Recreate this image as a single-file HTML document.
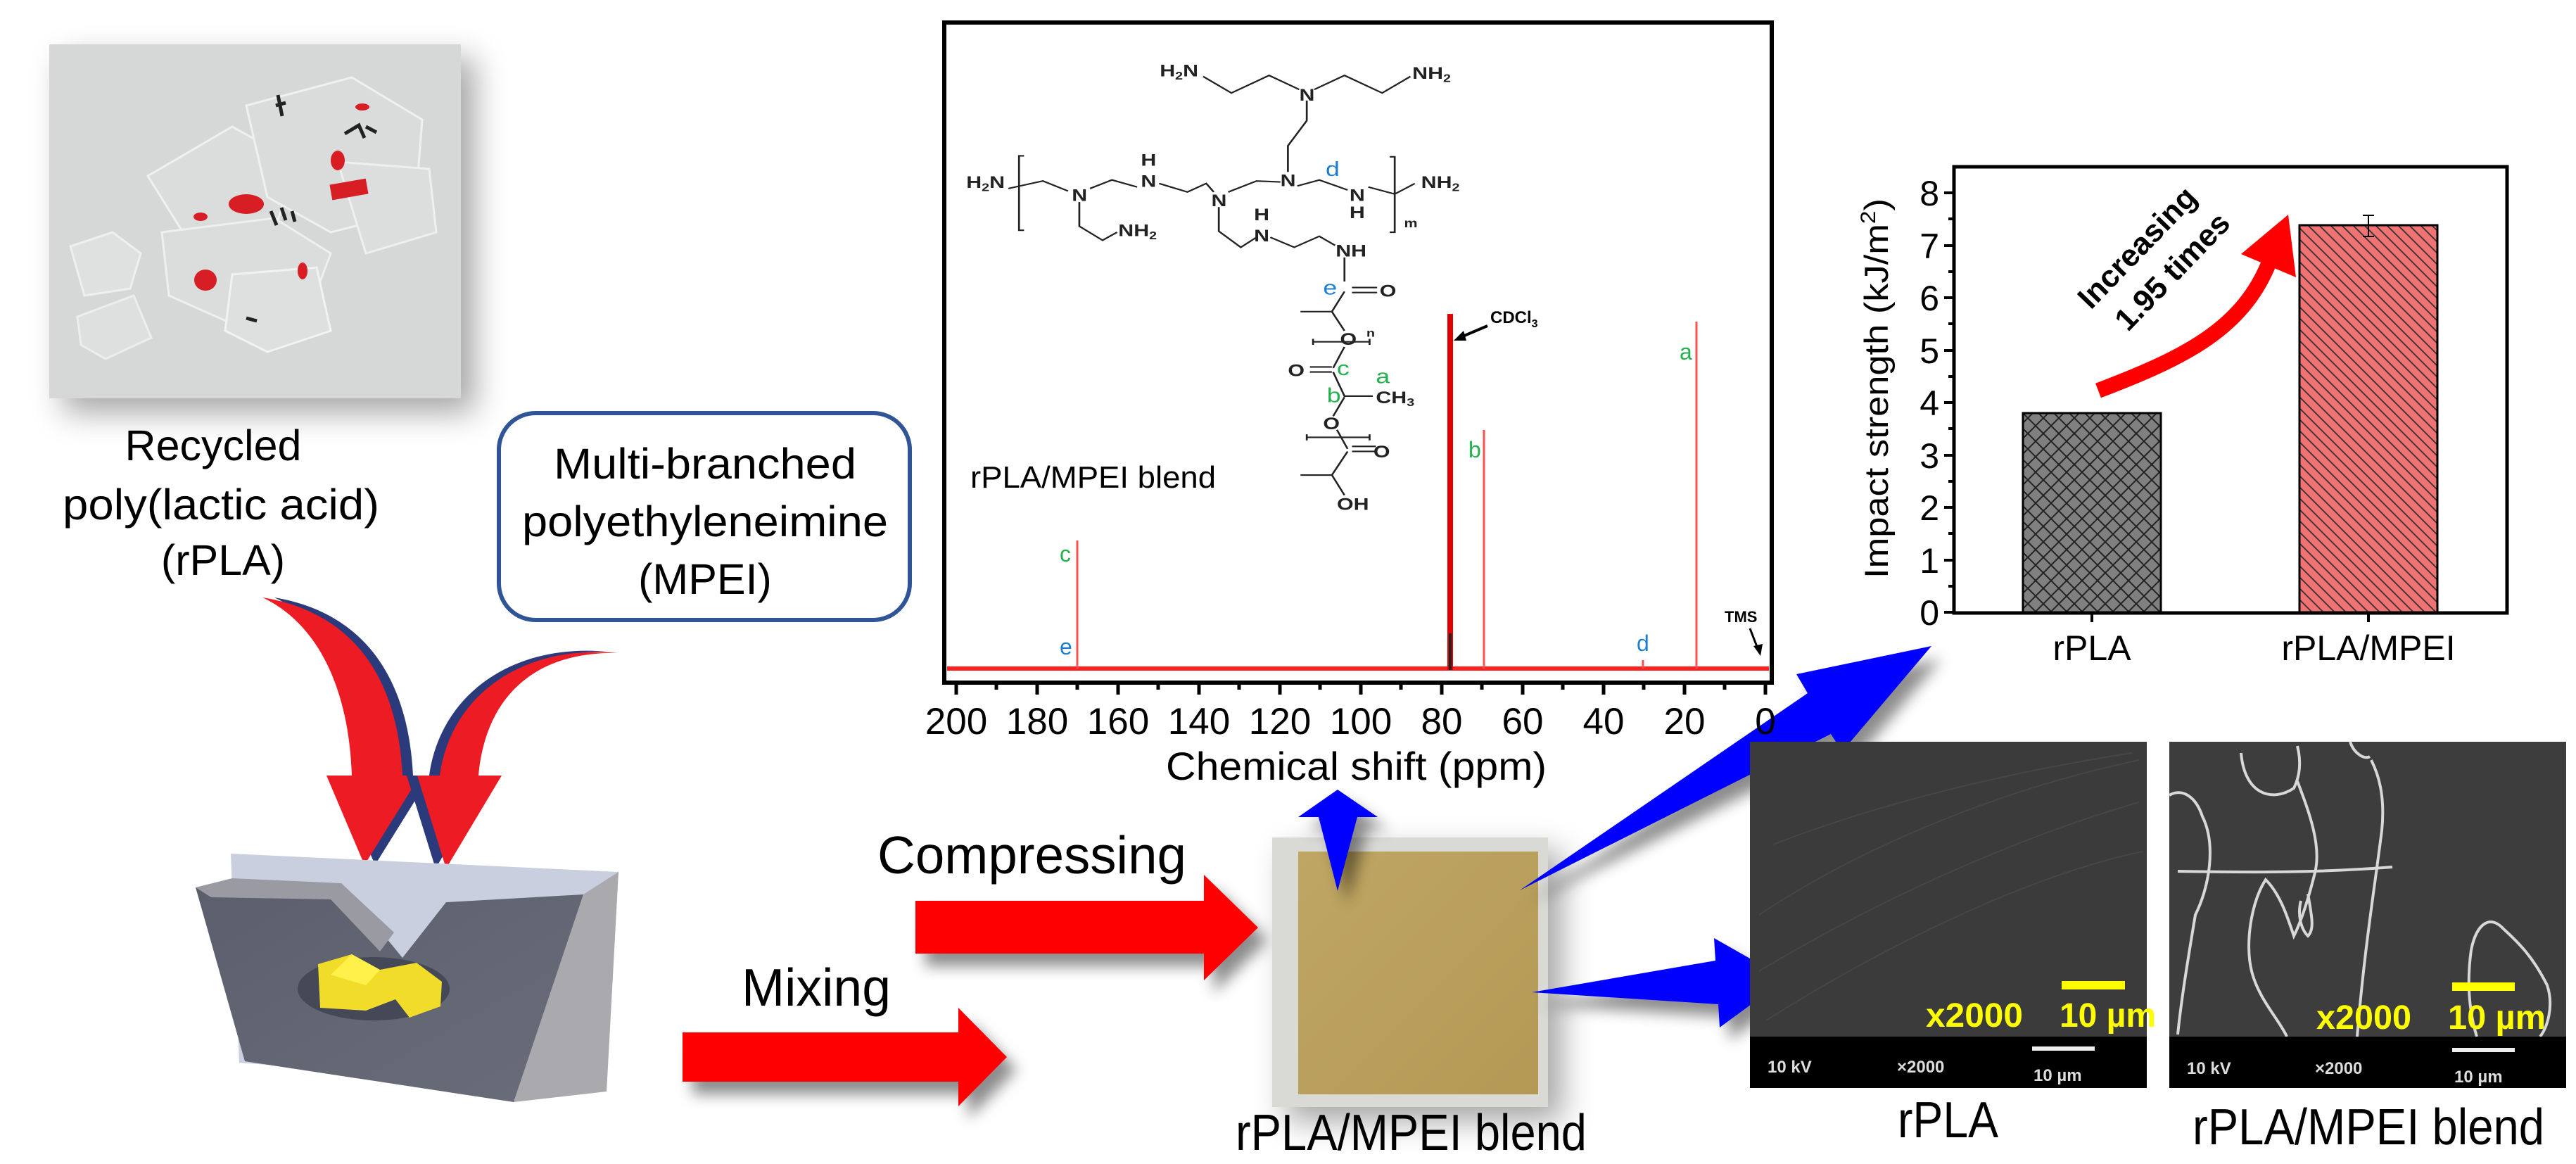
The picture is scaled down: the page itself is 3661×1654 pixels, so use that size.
<!DOCTYPE html>
<html><head><meta charset="utf-8"><style>
html,body{margin:0;padding:0;background:#fff}
svg{display:block}
text{font-family:"Liberation Sans",Arial,sans-serif}
</style></head><body>
<svg width="3661" height="1654" viewBox="0 0 3661 1654" xmlns="http://www.w3.org/2000/svg">
<defs>
<filter id="sh" x="-20%" y="-20%" width="150%" height="160%"><feDropShadow dx="14" dy="18" stdDeviation="10" flood-color="#000" flood-opacity="0.45"/></filter>
<filter id="sh2" x="-20%" y="-20%" width="150%" height="160%"><feDropShadow dx="20" dy="20" stdDeviation="22" flood-color="#000" flood-opacity="0.35"/></filter>
<pattern id="xh" width="22" height="22" patternUnits="userSpaceOnUse"><rect width="22" height="22" fill="#808080"/><path d="M0,0L22,22M22,0L0,22" stroke="#222" stroke-width="2"/></pattern>
<pattern id="dh" width="16" height="16" patternUnits="userSpaceOnUse"><rect width="16" height="16" fill="#f07272"/><path d="M0,0L16,16M-8,8L8,24M8,-8L24,8" stroke="#333" stroke-width="1.8"/></pattern>
<linearGradient id="tan" x1="0" y1="0" x2="1" y2="1"><stop offset="0" stop-color="#bfa663"/><stop offset="1" stop-color="#b39954"/></linearGradient>
<linearGradient id="face" x1="0" y1="0" x2="1" y2="1"><stop offset="0" stop-color="#5b5e6c"/><stop offset="1" stop-color="#6a6d79"/></linearGradient>
</defs>

<!-- rPLA photo -->
<g filter="url(#sh2)"><rect x="70" y="63" width="585" height="503" fill="#d6d8d7"/></g>
<g opacity="0.9">
<polygon points="100,350 160,330 200,360 185,410 120,420" fill="#e0e2e1" stroke="#f2f2f2" stroke-width="3"/>
<polygon points="110,450 190,420 215,480 150,510 115,490" fill="#dfe1e0" stroke="#f0f0f0" stroke-width="3"/>
<polygon points="210,250 330,180 420,230 390,330 260,330" fill="#dcdedd" stroke="#f3f3f3" stroke-width="3"/>
<polygon points="350,150 500,110 600,170 590,300 470,330 380,280" fill="#dbdddc" stroke="#f3f3f3" stroke-width="3"/>
<polygon points="230,330 390,310 470,360 440,440 330,460 240,420" fill="#dcdedd" stroke="#f2f2f2" stroke-width="3"/>
<polygon points="330,390 450,380 470,470 380,500 320,470" fill="#dfe1e0" stroke="#f5f5f5" stroke-width="3"/>
<polygon points="480,230 610,240 620,330 520,360" fill="#dddfde" stroke="#f2f2f2" stroke-width="3"/>
</g>
<g fill="#d81e25">
<ellipse cx="350" cy="290" rx="25" ry="14"/><ellipse cx="292" cy="398" rx="16" ry="15"/>
<rect x="470" y="258" width="52" height="22" transform="rotate(-10 496 269)"/><ellipse cx="480" cy="228" rx="10" ry="14"/>
<ellipse cx="430" cy="385" rx="7" ry="12"/><ellipse cx="285" cy="308" rx="10" ry="6"/><ellipse cx="515" cy="152" rx="10" ry="5"/>
</g>
<g stroke="#222" stroke-width="5" fill="none">
<path d="M395,135 l6,30 M392,150 l14,-4"/><path d="M490,190 l20,-12 l8,18 M520,180 l15,8"/><path d="M385,300 l8,20 M400,295 l6,18 M415,300 l4,15"/><path d="M350,452 l15,4"/>
</g>

<!-- Left labels -->
<g font-size="61" fill="#000" text-anchor="middle">
<text x="303" y="654">Recycled</text>
<text x="314" y="738" textLength="450" lengthAdjust="spacingAndGlyphs">poly(lactic  acid)</text>
<text x="317" y="817">(rPLA)</text>
</g>
<rect x="709" y="587" width="584" height="294" rx="52" fill="#fff" stroke="#2f5597" stroke-width="6"/>
<g font-size="61" fill="#000" text-anchor="middle">
<text x="1002" y="680" textLength="430" lengthAdjust="spacingAndGlyphs">Multi-branched</text>
<text x="1002" y="762" textLength="520" lengthAdjust="spacingAndGlyphs">polyethyleneimine</text>
<text x="1002" y="844">(MPEI)</text>
</g>

<!-- curved arrows -->
<path d="M390,849 C455,880 510,960 515,1102 L479,1102 L533,1229 L612,1102 L587,1102 C580,960 515,870 390,849 Z" fill="#2b3a7a"/>
<path d="M373,849 C440,880 495,960 500,1102 L464,1102 L518,1229 L597,1102 L572,1102 C565,960 500,870 373,849 Z" fill="#ed1c24"/>
<path d="M864,926 C745,923 675,990 665,1102 L698,1102 L619,1234 L578,1102 L610,1102 C625,990 725,913 864,926 Z" fill="#2b3a7a"/>
<path d="M879,928 C760,925 690,990 680,1102 L713,1102 L634,1234 L593,1102 L625,1102 C640,990 740,915 879,928 Z" fill="#ed1c24"/>

<!-- mixer -->
<polygon points="328,1213 879,1239 862,1551 340,1510" fill="#c9cfdf"/>
<polygon points="829,1271 879,1239 862,1551 730,1566" fill="#a9a9ae"/>
<polygon points="278,1261 485,1255 572,1361 634,1282 829,1271 730,1566 348,1508" fill="url(#face)"/>
<polygon points="278,1261 330,1248 485,1255 560,1325 540,1352 470,1278 300,1275" fill="#9a9ba2"/>
<ellipse cx="531" cy="1405" rx="108" ry="45" fill="#454957"/>
<polygon points="452,1370 500,1356 540,1378 592,1368 628,1395 626,1430 582,1446 562,1420 520,1436 455,1432" fill="#f2dc2a"/>
<polygon points="500,1356 540,1378 520,1400 470,1385" fill="#fff04a"/>

<!-- red straight arrows -->
<g filter="url(#sh)" fill="#ff0000">
<polygon points="1301,1280 1711,1280 1711,1243 1788,1318 1711,1393 1711,1355 1301,1355"/>
<polygon points="970,1467 1362,1467 1362,1432 1431,1502 1362,1572 1362,1537 970,1537"/>
</g>
<text x="1247" y="1241" font-size="75" textLength="439" lengthAdjust="spacingAndGlyphs">Compressing</text>
<text x="1054" y="1429" font-size="75" textLength="212" lengthAdjust="spacingAndGlyphs">Mixing</text>

<!-- plate -->
<g filter="url(#sh2)"><rect x="1808" y="1190" width="392" height="383" fill="#d9d9d5"/></g>
<rect x="1845" y="1210" width="341" height="345" fill="url(#tan)"/>
<text x="1756" y="1634" font-size="72" textLength="499" lengthAdjust="spacingAndGlyphs">rPLA/MPEI  blend</text>

<!-- blue arrows -->
<g filter="url(#sh)" fill="#0000ff">
<polygon points="1901,1122 1958,1161 1929,1161 1901,1266 1874,1161 1845,1161"/>
<polygon points="2160,1265 2569,985 2553,958 2745,918 2618,1068 2602,1043"/>
<polygon points="2177,1410 2438,1365 2436,1333 2538,1391 2444,1460 2442,1427"/>
</g>

<!-- NMR -->
<rect x="1342" y="32" width="1176" height="938" fill="#fff" stroke="#000" stroke-width="6"/>
<g stroke="#000" stroke-width="5">
<path d="M1359,970v17M1474,970v17M1589,970v17M1704,970v17M1819,970v17M1934,970v17M2049,970v17M2164,970v17M2279,970v17M2394,970v17M2509,970v17"/>
<path d="M1416,970v10M1531,970v10M1646,970v10M1761,970v10M1876,970v10M1991,970v10M2106,970v10M2221,970v10M2336,970v10M2451,970v10"/>
</g>
<g font-size="53" text-anchor="middle" fill="#000">
<text x="1359" y="1043">200</text><text x="1474" y="1043">180</text><text x="1589" y="1043">160</text><text x="1704" y="1043">140</text><text x="1819" y="1043">120</text><text x="1934" y="1043">100</text><text x="2049" y="1043">80</text><text x="2164" y="1043">60</text><text x="2279" y="1043">40</text><text x="2394" y="1043">20</text><text x="2509" y="1043">0</text>
</g>
<text x="1657" y="1108" font-size="56" textLength="541" lengthAdjust="spacingAndGlyphs">Chemical shift (ppm)</text>
<path d="M1346,950 L2514,950" stroke="#ff2020" stroke-width="6"/>
<g stroke="#ff5050" stroke-width="3"><path d="M1531,950V768M2109,950V611M2411,950V457M2335,950V938"/></g>
<path d="M2061,952V446" stroke="#e00000" stroke-width="8"/>
<path d="M2061,952V900" stroke="#222" stroke-width="4"/>
<g font-size="32">
<text x="1506" y="798" fill="#22b14c">c</text><text x="1506" y="930" fill="#1e7fd0">e</text>
<text x="2087" y="650" fill="#22b14c">b</text><text x="2387" y="511" fill="#22b14c">a</text>
<text x="2326" y="925" fill="#1e7fd0">d</text>
</g>
<text x="2118" y="459" font-size="24" font-weight="bold">CDCl<tspan font-size="16" dy="6">3</tspan></text>
<path d="M2114,463 L2074,480" stroke="#000" stroke-width="4"/><polygon points="2066,484 2080,470 2084,484"/>
<text x="2451" y="884" font-size="22" font-weight="bold">TMS</text>
<path d="M2487,893 L2499,924" stroke="#000" stroke-width="3"/><polygon points="2502,932 2492,918 2505,915"/>
<text x="1379" y="693" font-size="44" textLength="349" lengthAdjust="spacingAndGlyphs">rPLA/MPEI blend</text>

<!-- structure (zoom coords) -->
<g transform="translate(1250,0) scale(0.8929,0.7143)">
<g fill="none" stroke="#222" stroke-width="3">
<path d="M515,152 L560,185 L620,150 L668,178 M692,178 L740,150 L800,185 L845,152"/>
<path d="M680,200 L680,240 L650,290 L650,342"/>
<path d="M205,375 L260,360 L300,380 M335,375 L370,358 L410,372 M445,365 L490,382 L520,365 L532,382 M555,382 L600,360 L638,362 M665,370 L700,358 L745,378 M778,372 L820,386 L852,365"/>
<path d="M318,402 L318,450 L355,478 L378,462"/>
<path d="M540,412 L540,460 L575,492 L600,472 M622,472 L660,492 L700,470 L725,488"/>
<path d="M230,310 L222,310 L222,458 L230,458 M812,312 L820,312 L820,462 L812,462"/>
<path d="M740,512 L740,560 M752,572 L792,572 M752,582 L792,582 M740,580 L720,620 L670,620 M720,620 L740,658"/>
<path d="M690,680 L780,680 M690,674 L690,686 M780,674 L780,686"/>
<path d="M740,690 L722,732 M685,730 L720,730 M685,740 L720,740 M722,740 L740,788 L785,788 M740,790 L722,828"/>
<path d="M680,870 L780,870 M680,864 L680,876 M780,864 L780,876"/>
<path d="M728,855 L745,893 M752,888 L790,888 M752,898 L790,898 M745,898 L720,945 L670,945 M720,945 L740,985"/>
</g>
<g font-size="34" font-weight="bold" fill="#222" font-family="Liberation Sans">
<text x="446" y="152">H<tspan font-size="22" dy="6">2</tspan><tspan dy="-6">N</tspan></text>
<text x="668" y="200">N</text><text x="848" y="157">NH<tspan font-size="22" dy="6">2</tspan></text>
<text x="638" y="370">N</text>
<text x="138" y="374">H<tspan font-size="22" dy="6">2</tspan><tspan dy="-6">N</tspan></text>
<text x="306" y="400">N</text><text x="416" y="330">H</text><text x="416" y="372">N</text>
<text x="528" y="410">N</text><text x="748" y="400">N</text><text x="748" y="434">H</text>
<text x="862" y="374">NH<tspan font-size="22" dy="6">2</tspan></text><text x="835" y="452" font-size="24">m</text>
<text x="380" y="470">NH<tspan font-size="22" dy="6">2</tspan></text>
<text x="596" y="438">H</text><text x="596" y="480">N</text><text x="726" y="510">NH</text>
<text x="796" y="590">O</text><text x="733" y="686">O</text><text x="775" y="670" font-size="22">n</text>
<text x="650" y="748">O</text><text x="790" y="802">CH<tspan font-size="22" dy="6">3</tspan></text>
<text x="706" y="854">O</text><text x="786" y="910">O</text><text x="728" y="1014">OH</text>
</g>
<g font-size="40">
<text x="706" y="586" fill="#1e7fd0">e</text><text x="728" y="746" fill="#22b14c">c</text>
<text x="790" y="762" fill="#22b14c">a</text><text x="712" y="800" fill="#22b14c">b</text>
<text x="710" y="350" fill="#1e7fd0">d</text>
</g>
</g>

<!-- chart -->
<rect x="2777" y="237" width="786" height="634" fill="#fff" stroke="#000" stroke-width="5"/>
<rect x="2875" y="587" width="196" height="283" fill="url(#xh)" stroke="#000" stroke-width="3"/>
<rect x="3268" y="320" width="196" height="550" fill="url(#dh)" stroke="#000" stroke-width="3"/>
<path d="M3366,306V336M3358,306H3374M3358,336H3374" stroke="#000" stroke-width="2"/>
<g stroke="#000" stroke-width="4">
<path d="M2777,870h-14M2777,796h-14M2777,721h-14M2777,647h-14M2777,572h-14M2777,498h-14M2777,423h-14M2777,349h-14M2777,274h-14"/>
<path d="M2777,833h-8M2777,758h-8M2777,684h-8M2777,609h-8M2777,535h-8M2777,460h-8M2777,386h-8M2777,311h-8"/>
<path d="M2973,870v14M3366,870v14"/>
</g>
<g font-size="50" text-anchor="end">
<text x="2756" y="888">0</text><text x="2756" y="814">1</text><text x="2756" y="739">2</text><text x="2756" y="665">3</text><text x="2756" y="590">4</text><text x="2756" y="516">5</text><text x="2756" y="441">6</text><text x="2756" y="367">7</text><text x="2756" y="292">8</text>
</g>
<g font-size="50" text-anchor="middle"><text x="2973" y="938">rPLA</text><text x="3366" y="938">rPLA/MPEI</text></g>
<text transform="translate(2683,552) rotate(-90)" font-size="47" text-anchor="middle" textLength="540" lengthAdjust="spacingAndGlyphs">Impact strength (kJ/m<tspan font-size="30" dy="-18">2</tspan><tspan dy="18">)</tspan></text>
<path d="M2982,555 C3100,510 3185,470 3224,375" fill="none" stroke="#ff0000" stroke-width="22"/>
<polygon points="3252,305 3185,361 3263,394" fill="#ff0000"/>
<g font-size="44" font-weight="bold" text-anchor="middle">
<text transform="translate(3048,362) rotate(-46)">Increasing</text>
<text transform="translate(3098,396) rotate(-46)">1.95 times</text>
</g>

<!-- SEM -->
<rect x="2487" y="1054" width="564" height="492" fill="#3b3b3b"/>
<g stroke="#4a4a4a" stroke-width="2" fill="none" opacity="0.8">
<path d="M2500,1300 C2650,1200 2850,1120 3040,1080M2500,1380 C2700,1260 2900,1180 3040,1140M2510,1450 C2700,1330 2900,1240 3045,1210M2520,1200 C2700,1130 2900,1090 3030,1070"/>
</g>
<rect x="2487" y="1473" width="564" height="73" fill="#000"/>
<rect x="3083" y="1054" width="564" height="492" fill="#3d3d3d"/>
<g stroke="#d8d8d8" stroke-width="4" fill="none">
<path d="M3083,1130 C3100,1120 3120,1130 3130,1160 C3150,1200 3140,1260 3120,1300 C3110,1360 3100,1420 3095,1470"/>
<path d="M3185,1070 C3190,1130 3230,1140 3260,1120 C3270,1100 3270,1080 3265,1060"/>
<path d="M3265,1110 C3280,1150 3300,1200 3290,1240 C3280,1280 3270,1310 3260,1330 C3250,1300 3240,1270 3220,1250 C3200,1280 3190,1340 3200,1380 C3210,1420 3240,1450 3250,1473"/>
<path d="M3270,1280 C3265,1300 3270,1320 3280,1330 C3290,1320 3285,1300 3280,1270"/>
<path d="M3095,1238 C3200,1240 3300,1240 3400,1232"/>
<path d="M3370,1080 C3380,1100 3390,1130 3385,1180 C3375,1260 3360,1350 3350,1473"/>
<path d="M3558,1320 C3540,1300 3520,1310 3512,1350 C3505,1400 3510,1440 3520,1473 M3558,1320 C3580,1340 3600,1360 3620,1400 C3630,1430 3620,1460 3610,1473"/>
<path d="M3340,1054 C3345,1070 3360,1080 3368,1075"/>
</g>
<rect x="3083" y="1473" width="564" height="73" fill="#000"/>
<g fill="#ffff00">
<rect x="2930" y="1394" width="90" height="12"/><rect x="3485" y="1396" width="89" height="12"/>
</g>
<g font-size="48" font-weight="bold" fill="#ffff00">
<text x="2737" y="1459" textLength="138" lengthAdjust="spacingAndGlyphs">x2000</text>
<text x="2927" y="1459" textLength="137" lengthAdjust="spacingAndGlyphs">10 µm</text>
<text x="3292" y="1462" textLength="135" lengthAdjust="spacingAndGlyphs">x2000</text>
<text x="3479" y="1462" textLength="139" lengthAdjust="spacingAndGlyphs">10 µm</text>
</g>
<g fill="#ddd" font-size="24" font-weight="bold">
<rect x="2888" y="1487" width="89" height="6" fill="#eee"/><rect x="3485" y="1489" width="89" height="6" fill="#eee"/>
<text x="2512" y="1524">10 kV</text><text x="2696" y="1524">×2000</text><text x="2890" y="1536">10 µm</text>
<text x="3108" y="1526">10 kV</text><text x="3290" y="1526">×2000</text><text x="3488" y="1538">10 µm</text>
</g>
<text x="2697" y="1616" font-size="72" textLength="143" lengthAdjust="spacingAndGlyphs">rPLA</text>
<text x="3116" y="1626" font-size="72" textLength="500" lengthAdjust="spacingAndGlyphs">rPLA/MPEI  blend</text>
</svg>
</body></html>
